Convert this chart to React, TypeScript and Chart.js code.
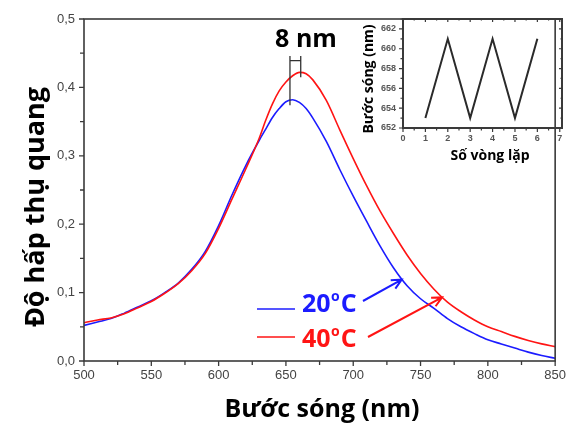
import React, { useEffect, useRef } from "react";
import { Chart, registerables } from "chart.js";

Chart.register(...registerables);

// ---- main spectrum data (wavelength nm → absorbance) ----
const wavelengths = [
  500, 510, 520, 530, 540, 550, 560, 570, 580, 590, 600, 610, 620, 630, 635, 640, 645, 650, 655,
  660, 665, 670, 680, 690, 700, 710, 720, 730, 740, 750, 760, 770, 780, 790, 800, 810, 820, 830,
  840, 850,
];
const abs20C = [
  0.052, 0.057, 0.062, 0.07, 0.079, 0.088, 0.1, 0.114, 0.134, 0.16, 0.198, 0.243, 0.285, 0.322,
  0.339, 0.356, 0.369, 0.379, 0.382, 0.378, 0.369, 0.355, 0.321, 0.28, 0.241, 0.204, 0.168,
  0.136, 0.11, 0.091, 0.077, 0.062, 0.05, 0.04, 0.031, 0.025, 0.019, 0.013, 0.008, 0.004,
];
const abs40C = [
  0.056, 0.06, 0.063, 0.069, 0.078, 0.087, 0.099, 0.113, 0.132, 0.157, 0.194, 0.237, 0.28,
  0.325, 0.352, 0.376, 0.395, 0.408, 0.417, 0.422, 0.42, 0.411, 0.381, 0.338, 0.296, 0.256,
  0.219, 0.186, 0.155, 0.128, 0.105, 0.086, 0.072, 0.06, 0.05, 0.043, 0.036, 0.03, 0.025, 0.021,
];
const seriesLabels = ["20", "40"];
const xTitle = "Bước sóng (nm)";
const yTitle = "Độ hấp thụ quang";
const peakShiftLabel = "8 nm";

// ---- inset data ----
const cycles = [1, 2, 3, 4, 5, 6];
const peakWavelengths = [653, 661, 653, 661, 653, 661];
const insetXTitle = "Số vòng lặp";
const insetYTitle = "Bước sóng (nm)";

const BLUE = "#1c1cff";
const RED = "#ff1414";
const AXIS = "#3a3a3a";
const TITLE_FONT = '"Open Sans", "Noto Sans", sans-serif';
const TICK_FONT = '"Liberation Sans", Arial, sans-serif';

function arrow(ctx: CanvasRenderingContext2D, x1: number, y1: number, x2: number, y2: number, color: string) {
  ctx.strokeStyle = color;
  ctx.lineWidth = 2;
  ctx.beginPath();
  ctx.moveTo(x1, y1);
  ctx.lineTo(x2, y2);
  const ang = Math.atan2(y2 - y1, x2 - x1);
  const hl = 11;
  ctx.moveTo(x2 - hl * Math.cos(ang - 0.45), y2 - hl * Math.sin(ang - 0.45));
  ctx.lineTo(x2, y2);
  ctx.lineTo(x2 - hl * Math.cos(ang + 0.45), y2 - hl * Math.sin(ang + 0.45));
  ctx.stroke();
}

function tempLabel(ctx: CanvasRenderingContext2D, x: number, yb: number, num: string, color: string) {
  ctx.fillStyle = color;
  ctx.textAlign = "left";
  ctx.textBaseline = "alphabetic";
  ctx.font = `bold 25px ${TITLE_FONT}`;
  ctx.fillText(num, x, yb);
  const w = ctx.measureText(num).width;
  ctx.font = `bold 14px ${TITLE_FONT}`;
  ctx.fillText("o", x + w + 0.5, yb - 11);
  const w2 = ctx.measureText("o").width;
  ctx.font = `bold 25px ${TITLE_FONT}`;
  ctx.fillText("C", x + w + w2 + 1.5, yb);
}

const mainDecor = {
  id: "mainDecor",
  afterDraw(chart: any) {
    const { ctx, chartArea: a } = chart;
    const x = chart.scales.x;
    const y = chart.scales.y;
    ctx.save();
    // frame
    ctx.strokeStyle = AXIS;
    ctx.lineWidth = 1.6;
    ctx.strokeRect(a.left, a.top, a.right - a.left, a.bottom - a.top);
    // ticks
    ctx.lineWidth = 1.3;
    ctx.beginPath();
    for (let v = x.min; v <= x.max + 0.001; v += 25) {
      const px = x.getPixelForValue(v);
      const len = (v - x.min) % 50 === 0 ? 5 : 4;
      ctx.moveTo(px, a.bottom);
      ctx.lineTo(px, a.bottom + len);
    }
    for (let i = 0; i <= 10; i++) {
      const py = y.getPixelForValue(i * 0.05);
      const len = i % 2 === 0 ? 5 : 4;
      ctx.moveTo(a.left - len, py);
      ctx.lineTo(a.left, py);
    }
    ctx.stroke();

    // axis titles
    ctx.fillStyle = "#000";
    ctx.font = `bold 25px ${TITLE_FONT}`;
    ctx.textAlign = "center";
    ctx.textBaseline = "alphabetic";
    ctx.fillText(xTitle, 322, 417);
    ctx.save();
    ctx.translate(44, 207);
    ctx.rotate(-Math.PI / 2);
    ctx.font = `bold 27px ${TITLE_FONT}`;
    ctx.fillText(yTitle, 0, 0);
    ctx.restore();

    // 8 nm marker
    const xl = x.getPixelForValue(653);
    const xr = x.getPixelForValue(661);
    ctx.strokeStyle = "#333";
    ctx.lineWidth = 1.3;
    ctx.beginPath();
    ctx.moveTo(xl, y.getPixelForValue(0.446));
    ctx.lineTo(xl, y.getPixelForValue(0.374));
    ctx.moveTo(xr, y.getPixelForValue(0.446));
    ctx.lineTo(xr, y.getPixelForValue(0.415));
    ctx.moveTo(xl, y.getPixelForValue(0.439));
    ctx.lineTo(xr, y.getPixelForValue(0.439));
    ctx.stroke();
    ctx.fillStyle = "#000";
    ctx.font = `bold 25px ${TITLE_FONT}`;
    ctx.textAlign = "center";
    ctx.fillText(peakShiftLabel, 306, 47);

    // legend
    ctx.lineWidth = 1.6;
    ctx.strokeStyle = BLUE;
    ctx.beginPath();
    ctx.moveTo(257, 309);
    ctx.lineTo(295, 309);
    ctx.stroke();
    ctx.strokeStyle = RED;
    ctx.beginPath();
    ctx.moveTo(257, 337);
    ctx.lineTo(295, 337);
    ctx.stroke();
    tempLabel(ctx, 302, 312, seriesLabels[0], BLUE);
    tempLabel(ctx, 302, 347, seriesLabels[1], RED);

    // arrows to curves
    arrow(ctx, 363, 301, x.getPixelForValue(736), y.getPixelForValue(0.119), BLUE);
    arrow(ctx, 368, 337, x.getPixelForValue(766), y.getPixelForValue(0.093), RED);
    ctx.restore();
  },
};

const insetDecor = {
  id: "insetDecor",
  afterDraw(chart: any) {
    const { ctx, chartArea: a } = chart;
    const x = chart.scales.x;
    const y = chart.scales.y;
    ctx.save();
    ctx.strokeStyle = AXIS;
    ctx.lineWidth = 2;
    ctx.strokeRect(a.left, a.top, a.right - a.left, a.bottom - a.top);
    ctx.lineWidth = 1.2;
    ctx.beginPath();
    for (let v = 0; v <= 7; v += 0.5) {
      const px = x.getPixelForValue(v);
      const len = v % 1 === 0 ? 4 : 2.5;
      ctx.moveTo(px, a.bottom);
      ctx.lineTo(px, a.bottom + len);
      ctx.moveTo(px, a.top);
      ctx.lineTo(px, a.top + len - 1);
    }
    for (let v = 652; v <= 663; v += 1) {
      const py = y.getPixelForValue(v);
      const len = v % 2 === 0 ? 4 : 2.5;
      ctx.moveTo(a.left - len, py);
      ctx.lineTo(a.left, py);
      ctx.moveTo(a.right, py);
      ctx.lineTo(a.right - len + 1, py);
    }
    ctx.stroke();

    ctx.fillStyle = "#000";
    ctx.textAlign = "center";
    ctx.textBaseline = "alphabetic";
    ctx.font = `bold 14px ${TITLE_FONT}`;
    ctx.fillText(insetXTitle, 130, 160);
    ctx.save();
    ctx.translate(13, 79);
    ctx.rotate(-Math.PI / 2);
    ctx.fillText(insetYTitle, 0, 0);
    ctx.restore();
    ctx.restore();
  },
};

export default function App() {
  const mainRef = useRef<HTMLCanvasElement>(null);
  const insetRef = useRef<HTMLCanvasElement>(null);

  useEffect(() => {
    const main = new Chart(mainRef.current!, {
      type: "scatter",
      data: {
        datasets: [
          {
            label: "20oC",
            data: wavelengths.map((w, i) => ({ x: w, y: abs20C[i] })),
            showLine: true,
            borderColor: BLUE,
            borderWidth: 1.6,
            pointRadius: 0,
            cubicInterpolationMode: "monotone",
            order: 1,
          },
          {
            label: "40oC",
            data: wavelengths.map((w, i) => ({ x: w, y: abs40C[i] })),
            showLine: true,
            borderColor: RED,
            borderWidth: 1.6,
            pointRadius: 0,
            cubicInterpolationMode: "monotone",
            order: 0,
          },
        ],
      },
      options: {
        animation: false,
        responsive: false,
        layout: { padding: { top: 19, right: 11, left: 0, bottom: 0 } },
        plugins: { legend: { display: false }, tooltip: { enabled: false } },
        scales: {
          x: {
            type: "linear",
            min: 500,
            max: 850,
            afterFit: (s: any) => {
              s.height = 66;
            },
            grid: { display: false, drawTicks: false },
            border: { display: false },
            ticks: {
              stepSize: 50,
              padding: 7,
              color: "#444",
              font: { family: TICK_FONT, size: 13 },
            },
          },
          y: {
            min: 0,
            max: 0.5,
            afterFit: (s: any) => {
              s.width = 84;
            },
            grid: { display: false, drawTicks: false },
            border: { display: false },
            ticks: {
              stepSize: 0.1,
              padding: 9,
              color: "#444",
              font: { family: TICK_FONT, size: 13 },
              callback: (v: any) => Number(v).toFixed(1).replace(".", ","),
            },
          },
        },
      },
      plugins: [mainDecor],
    } as any);

    const inset = new Chart(insetRef.current!, {
      type: "scatter",
      data: {
        datasets: [
          {
            data: cycles.map((c, i) => ({ x: c, y: peakWavelengths[i] })),
            showLine: true,
            borderColor: "#2a2a2a",
            borderWidth: 2,
            pointRadius: 0,
            tension: 0,
          },
        ],
      },
      options: {
        animation: false,
        responsive: false,
        layout: { padding: { top: 19, right: 11, left: 0, bottom: 0 } },
        plugins: { legend: { display: false }, tooltip: { enabled: false } },
        scales: {
          x: {
            type: "linear",
            min: 0,
            max: 7.1,
            afterFit: (s: any) => {
              s.height = 42;
            },
            grid: { display: false, drawTicks: false },
            border: { display: false },
            ticks: {
              stepSize: 1,
              includeBounds: false,
              padding: 5,
              color: "#555",
              font: { family: TICK_FONT, size: 9, weight: "bold" },
            },
          },
          y: {
            min: 652,
            max: 663,
            afterFit: (s: any) => {
              s.width = 43;
            },
            grid: { display: false, drawTicks: false },
            border: { display: false },
            ticks: {
              stepSize: 2,
              includeBounds: false,
              padding: 7,
              color: "#555",
              font: { family: TICK_FONT, size: 9, weight: "bold" },
            },
          },
        },
      },
      plugins: [insetDecor],
    } as any);

    return () => {
      main.destroy();
      inset.destroy();
    };
  }, []);

  return (
    <div
      style={{
        position: "fixed",
        left: 0,
        top: 0,
        width: 573,
        height: 427,
        background: "#fff",
      }}
    >
      <canvas ref={mainRef} width={573} height={427} style={{ position: "absolute", left: 0, top: 0 }} />
      <canvas ref={insetRef} width={213} height={170} style={{ position: "absolute", left: 360, top: 0 }} />
    </div>
  );
}
